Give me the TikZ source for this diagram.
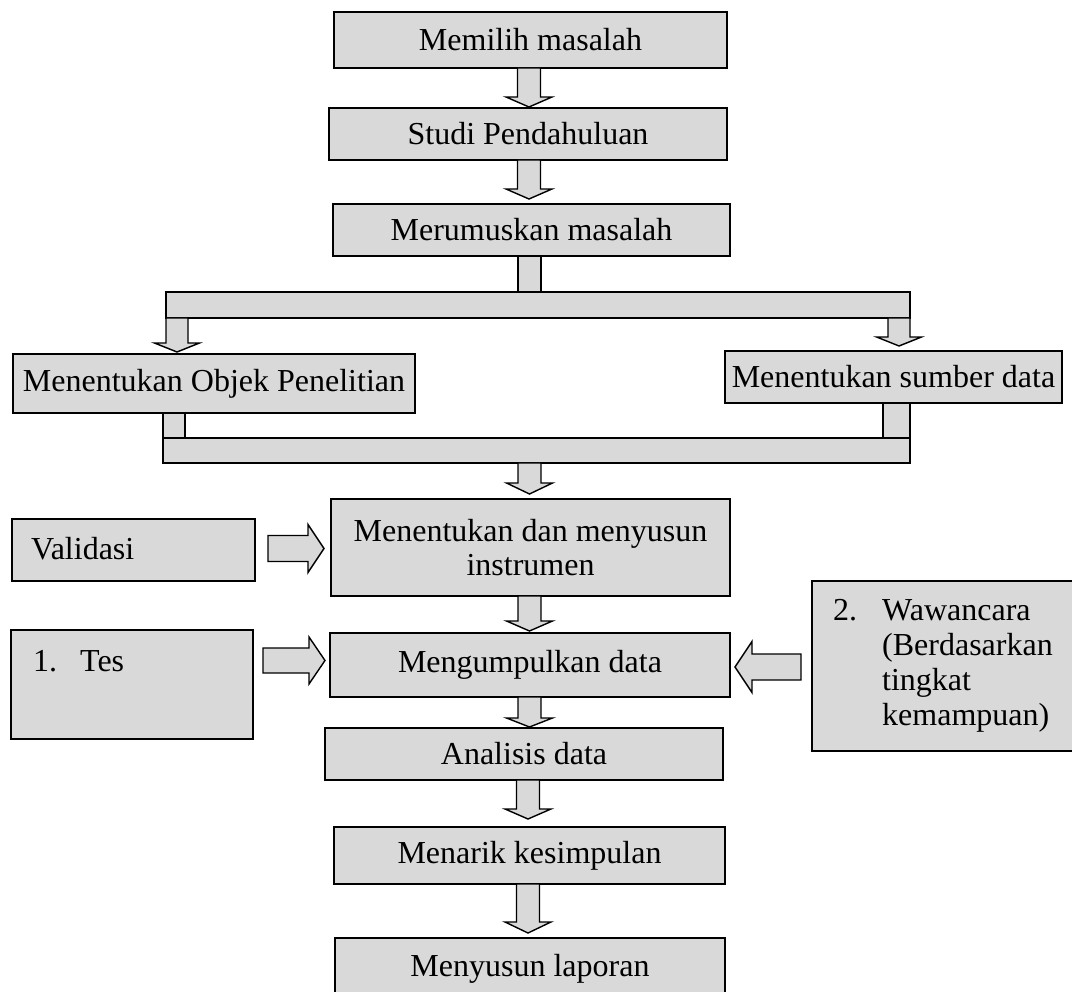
\documentclass[tikz,border=0pt]{standalone}
\usepackage{fontspec}
\setmainfont{Liberation Serif}
\definecolor{boxgray}{HTML}{D9D9D9}
% vertical block arrow: x, y start, y head base, y tip, shaft half width, head half width
\newcommand\varr[6]{\draw[barrow] (#1-#5,#2) -- (#1-#5,#3) -- (#1-#6,#3) -- (#1,#4) -- (#1+#6,#3) -- (#1+#5,#3) -- (#1+#5,#2) -- cycle;}
% horizontal block arrow: y, x start, x head base, x tip, shaft half width, head half width
\newcommand\harr[6]{\draw[barrow] (#2,#1-#5) -- (#3,#1-#5) -- (#3,#1-#6) -- (#4,#1) -- (#3,#1+#6) -- (#3,#1+#5) -- (#2,#1+#5) -- cycle;}
\begin{document}
\begin{tikzpicture}[x=1pt,y=-1pt,
  box/.style={draw=black, line width=1.8pt, fill=boxgray, inner sep=0pt, align=center, font=\fontsize{32}{34}\selectfont},
  txt/.style={inner sep=0pt, align=left, font=\fontsize{32}{35}\selectfont},
  barrow/.style={draw=black, line width=1.4pt, fill=boxgray, line join=miter},
  bar/.style={draw=black, line width=1.8pt, fill=boxgray, inner sep=0pt}]
\path[use as bounding box, fill=white] (0,0) rectangle (1072,992);
\clip (0,0) rectangle (1072,992);

% main column
\node[box, minimum width=393pt, minimum height=56pt] (memilih) at (530.5,40) {Memilih masalah};
\node[box, minimum width=398pt, minimum height=52pt] (studi) at (528,134) {Studi Pendahuluan};
\node[box, minimum width=397pt, minimum height=52pt] (rumus) at (531.5,230) {Merumuskan masalah};

% branching bars
\draw[bar] (518,256) rectangle (541,292);
\node[bar, minimum width=744pt, minimum height=26pt] (bar1) at (538,305) {};
\node[box, minimum width=402pt, minimum height=59pt] (objek) at (214,383.5) {Menentukan Objek Penelitian};
\node[box, minimum width=337pt, minimum height=52pt] (sumber) at (893.5,377) {Menentukan sumber data};
\draw[bar] (163,413) rectangle (185,438);
\draw[bar] (883,403) rectangle (910,438);
\node[bar, minimum width=747pt, minimum height=25pt] (bar2) at (536.5,450.5) {};

\node[box, minimum width=399pt, minimum height=97pt] (instr) at (530.5,547.5) {Menentukan dan menyusun\\instrumen};
\node[box, minimum width=400pt, minimum height=64pt] (kumpul) at (530,665) {Mengumpulkan data};
\node[box, minimum width=398pt, minimum height=52pt] (analisis) at (524,754) {Analisis data};
\node[box, minimum width=391pt, minimum height=57pt] (menarik) at (529.5,855.5) {Menarik kesimpulan};
\node[box, minimum width=390pt, minimum height=62pt] (laporan) at (530,969) {Menyusun laporan};

% side boxes
\node[box, minimum width=243pt, minimum height=62pt] (validasi) at (133.5,550) {};
\node[txt, anchor=west] (validasiT) at (31,549) {Validasi};
\node[box, minimum width=242pt, minimum height=109pt] (tes) at (132,684.5) {};
\node[txt, anchor=west] (tesT) at (33,661) {\makebox[47pt][l]{1.}Tes};
\node[box, minimum width=273pt, minimum height=170pt] (waw) at (948.5,666) {};
\node[txt, anchor=west] (wawT) at (833,666) {\makebox[49pt][l]{2.}Wawancara\\\hspace*{49pt}(Berdasarkan\\\hspace*{49pt}tingkat\\\hspace*{49pt}kemampuan)};

% block arrows (down)
\varr{529}{68}{97}{107}{11.5}{23}
\varr{529}{160}{189}{199}{11.5}{23}
\varr{177}{318}{343}{352}{11}{22.5}
\varr{899}{318}{337}{346}{11}{22.5}
\varr{529.5}{463}{483}{494}{11.5}{23}
\varr{529.5}{596}{621}{631}{11.5}{23}
\varr{529.5}{697}{718}{727}{11.5}{23}
\varr{528}{780}{809}{819}{11.5}{23}
\varr{528}{884}{922}{933}{11.5}{23}

% block arrows (horizontal)
\harr{548.5}{268}{308}{324}{13}{24}
\harr{660.5}{263}{309}{325}{12.5}{23.5}
\harr{667}{801}{752}{735}{13}{25.5}
\end{tikzpicture}
\end{document}
